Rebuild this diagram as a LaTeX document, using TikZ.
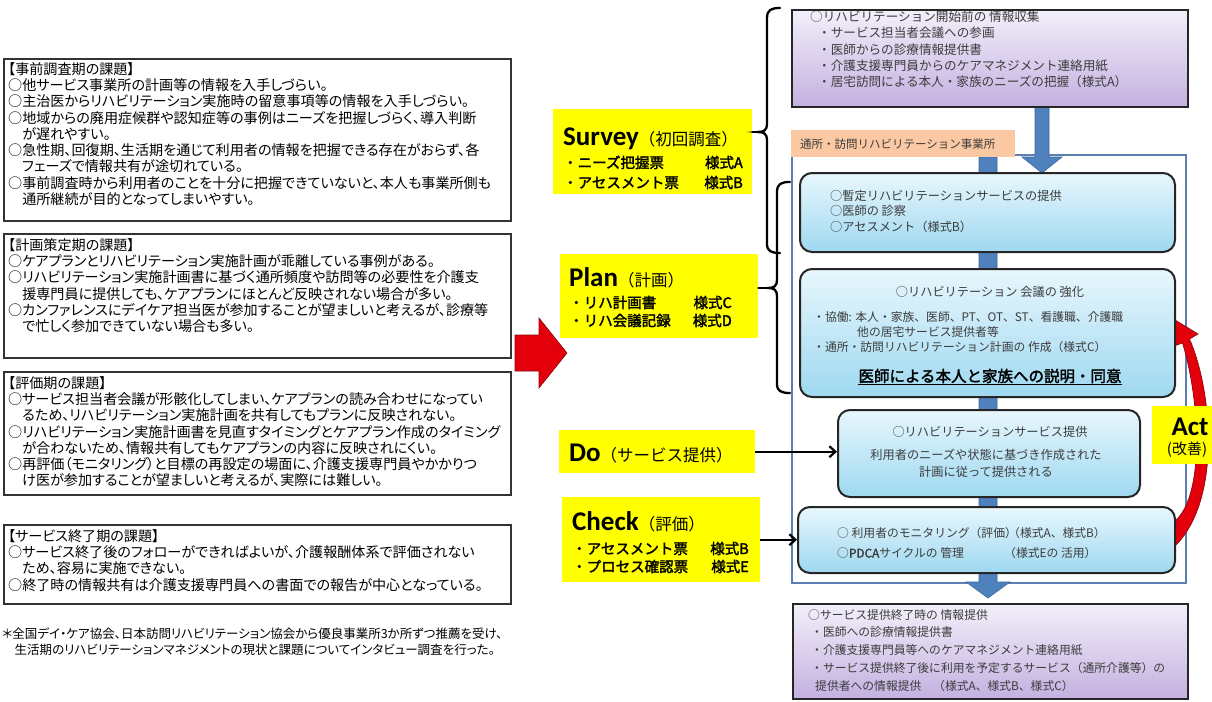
\documentclass[tikz,border=0pt]{standalone}
\usepackage{fontspec}
\setmainfont{Noto Sans CJK JP}[AutoFakeBold=2]
\newfontfamily\jpp{Noto Sans CJK JP}[RawFeature=+palt]
\newfontfamily\calfont{Carlito}
\usetikzlibrary{arrows.meta,calc}
\definecolor{ylw}{HTML}{FFFF00}
\definecolor{barblue}{HTML}{4F81BD}
\definecolor{barblueD}{HTML}{3A679E}
\definecolor{lbTop}{HTML}{E8F7FD}
\definecolor{lbBot}{HTML}{9ED8F0}
\definecolor{pTop}{HTML}{F3EFFA}
\definecolor{pBot}{HTML}{C3B0E0}
\definecolor{peach}{HTML}{FAC8A2}
\definecolor{framec}{HTML}{5B7FAE}
\definecolor{txtg}{HTML}{3C3C3C}
\definecolor{arrRed}{HTML}{E3000B}
\definecolor{arrRedD}{HTML}{8A0A10}
\begin{document}
\begin{tikzpicture}[x=1pt,y=-1pt,
  leftbox/.style={draw=black!80, line width=1.6pt, fill=white, anchor=north west, inner sep=0pt},
  ltext/.style={anchor=north west, align=left, inner sep=0pt, font=\jpp\fontsize{14.1}{16.3}\selectfont},
  ylwbox/.style={fill=ylw, draw=none, anchor=north west, inner sep=0pt},
  ytitle/.style={anchor=base west, inner sep=0pt},
  yline/.style={inner sep=0pt, font=\bfseries\fontsize{14.5}{14.5}\selectfont},
  bluebox/.style={rounded corners=12pt, draw=black!85, line width=2pt, top color=lbTop, bottom color=lbBot, inner sep=0pt},
  purpbox/.style={draw=black!85, line width=2pt, top color=pTop, bottom color=pBot, inner sep=0pt, anchor=north west},
  rtext/.style={anchor=north west, align=left, inner sep=0pt, text=txtg, font=\fontsize{11.8}{15.8}\selectfont},
  ctext/.style={inner sep=0pt, text=txtg, font=\fontsize{11.8}{15.8}\selectfont},
  bracestyle/.style={line width=2.3pt, black, line cap=round},
  conn/.style={line width=2.3pt, black, -{Straight Barb[length=6pt,width=11pt,line width=2.2pt]}},
  blockarrow/.style={fill=barblue, draw=barblueD, line width=0.6pt}
]
\useasboundingbox[fill=white] (0,0) rectangle (1212,701);

% ---------------- left boxes ----------------
\node[leftbox, minimum width=507pt, minimum height=162pt] (k1) at (3,58) {};
\node[ltext] (k1t) at (8,62) {【事前調査期の課題】\\
○他サービス事業所の計画等の情報を入手しづらい。\\
○主治医からリハビリテーション実施時の留意事項等の情報を入手しづらい。\\
○地域からの廃用症候群や認知症等の事例はニーズを把握しづらく、導入判断\\
　が遅れやすい。\\
○急性期、回復期、生活期を通じて利用者の情報を把握できる存在がおらず、各\\
　フェーズで情報共有が途切れている。\\
○事前調査時から利用者のことを十分に把握できていないと、本人も事業所側も\\
　通所継続が目的となってしまいやすい。};

\node[leftbox, minimum width=507pt, minimum height=124pt] (k2) at (3,233) {};
\node[ltext] (k2t) at (8,238) {【計画策定期の課題】\\
○ケアプランとリハビリテーション実施計画が乖離している事例がある。\\
○リハビリテーション実施計画書に基づく通所頻度や訪問等の必要性を介護支\\
　援専門員に提供しても、ケアプランにほとんど反映されない場合が多い。\\
○カンファレンスにデイケア担当医が参加することが望ましいと考えるが、診療等\\
　で忙しく参加できていない場合も多い。};

\node[leftbox, minimum width=507pt, minimum height=123pt] (k3) at (3,371) {};
\node[ltext] (k3t) at (8,376) {【評価期の課題】\\
○サービス担当者会議が形骸化してしまい、ケアプランの読み合わせになってい\\
　るため、リハビリテーション実施計画を共有してもプランに反映されない。\\
○リハビリテーション実施計画書を見直すタイミングとケアプラン作成のタイミング\\
　が合わないため、情報共有してもケアプランの内容に反映されにくい。\\
○再評価（モニタリング）と目標の再設定の場面に、介護支援専門員やかかりつ\\
　け医が参加することが望ましいと考えるが、実際には難しい。};

\node[leftbox, minimum width=507pt, minimum height=79pt] (k4) at (3,524) {};
\node[ltext] (k4t) at (8,529) {【サービス終了期の課題】\\
○サービス終了後のフォローができればよいが、介護報酬体系で評価されない\\
　ため、容易に実施できない。\\
○終了時の情報共有は介護支援専門員への書面での報告が中心となっている。};

\node[anchor=north west, align=left, inner sep=0pt, font=\jpp\fontsize{12.5}{16}\selectfont] (foot) at (2,628) {＊全国デイ・ケア協会、日本訪問リハビリテーション協会から優良事業所3か所ずつ推薦を受け、\\
　生活期のリハビリテーションマネジメントの現状と課題についてインタビュー調査を行った。};

% ---------------- red block arrow ----------------
\fill[arrRed, draw=arrRedD, line width=0.6pt] (515,335) -- (539,335) -- (539,318) -- (567,353) -- (539,388) -- (539,371) -- (515,371) -- cycle;

% ---------------- yellow PDCA boxes ----------------
\node[ylwbox, minimum width=199pt, minimum height=85pt] (sv) at (553,109) {};
\node[ytitle] (svT) at (563,145) {{\calfont\bfseries\fontsize{27}{27}\selectfont Survey}{\fontsize{16.5}{16.5}\selectfont （初回調査）}};
\node[yline, anchor=base west] (sv1) at (563,168) {・ニーズ把握票};
\node[yline, anchor=base east] (sv1b) at (743,168) {様式A};
\node[yline, anchor=base west] (sv2) at (563,188) {・アセスメント票};
\node[yline, anchor=base east] (sv2b) at (743,188) {様式B};

\node[ylwbox, minimum width=198pt, minimum height=84pt] (pl) at (560,254) {};
\node[ytitle] (plT) at (569,286) {{\calfont\bfseries\fontsize{27}{27}\selectfont Plan}{\fontsize{16.5}{16.5}\selectfont （計画）}};
\node[yline, anchor=base west] (pl1) at (569,308) {・リハ計画書};
\node[yline, anchor=base east] (pl1b) at (732,308) {様式C};
\node[yline, anchor=base west] (pl2) at (569,326) {・リハ会議記録};
\node[yline, anchor=base east] (pl2b) at (732,326) {様式D};

\node[ylwbox, minimum width=196pt, minimum height=43pt] (do) at (559,430) {};
\node[ytitle] (doT) at (569,461) {{\calfont\bfseries\fontsize{27}{27}\selectfont Do}{\fontsize{16.5}{16.5}\selectfont （サービス提供）}};

\node[ylwbox, minimum width=198pt, minimum height=85pt] (ck) at (562,497) {};
\node[ytitle] (ckT) at (572,530) {{\calfont\bfseries\fontsize{27}{27}\selectfont Check}{\fontsize{16.5}{16.5}\selectfont （評価）}};
\node[yline, anchor=base west] (ck1) at (572,554) {・アセスメント票};
\node[yline, anchor=base east] (ck1b) at (749,554) {様式B};
\node[yline, anchor=base west] (ck2) at (572,572) {・プロセス確認票};
\node[yline, anchor=base east] (ck2b) at (749,572) {様式E};

% ---------------- right side ----------------
\node[draw=framec, line width=1.5pt, minimum width=394pt, minimum height=428pt, anchor=north west, inner sep=0pt] (office) at (791,154) {};

% central blue bar with bottom arrow
\fill[blockarrow] (979,157) -- (997,157) -- (997,582) -- (1010,582) -- (988,598) -- (966,582) -- (979,582) -- cycle;
% arrow from top purple box
\fill[blockarrow] (1035,106) -- (1049,106) -- (1049,157) -- (1062,157) -- (1042,173) -- (1022,157) -- (1035,157) -- cycle;

\node[fill=peach, minimum width=224pt, minimum height=27pt, anchor=north west, inner sep=0pt] (lab) at (791,130) {};
\node[anchor=west, inner sep=0pt, text=txtg, font=\fontsize{11.5}{11.5}\selectfont] (labt) at (800,144) {通所・訪問リハビリテーション事業所};

\node[purpbox, minimum width=396pt, minimum height=97pt] (pt) at (791,9) {};
\node[rtext, font=\fontsize{12.6}{16.1}\selectfont] (ptt) at (810,11) {○リハビリテーション開始前の 情報収集\\
\hspace{8pt}・サービス担当者会議への参画\\
\hspace{8pt}・医師からの診療情報提供書\\
\hspace{8pt}・介護支援専門員からのケアマネジメント連絡用紙\\
\hspace{8pt}・居宅訪問による本人・家族のニーズの把握（様式A）};

% red curved arrow (behind Act box)
\fill[arrRed, draw=arrRedD, line width=0.7pt]
  (1175,320) -- (1198,334) -- (1189.5,339)
  .. controls (1212,390) and (1222,500) .. (1175,546)
  -- (1175,521)
  .. controls (1205,495) and (1200,400) .. (1182.5,343)
  -- (1174,346) -- cycle;

\node[bluebox, minimum width=375pt, minimum height=79pt] (b1) at (987.5,212.5) {};
\node[rtext, font=\fontsize{12.2}{15.5}\selectfont] (b1t) at (830,190) {○暫定リハビリテーションサービスの提供\\
○医師の 診察\\
○アセスメント（様式B）};

\node[bluebox, minimum width=375pt, minimum height=128pt] (b2) at (987.5,333) {};
\node[ctext, font=\fontsize{12.2}{12.2}\selectfont] (b2a) at (990,292) {○リハビリテーション 会議の 強化};
\node[rtext, font=\fontsize{11.8}{15}\selectfont] (b2b) at (813,311) {・協働: 本人・家族、医師、PT、OT、ST、看護職、介護職\\
\hspace{44pt}他の居宅サービス提供者等\\
・通所・訪問リハビリテーション計画の 作成（様式C）};
\node[inner sep=0pt, font=\bfseries\fontsize{15.5}{15.5}\selectfont] (b2c) at (990,377) {\underline{医師による本人と家族への説明・同意}};

\node[bluebox, minimum width=302pt, minimum height=87pt] (b3) at (989,453.5) {};
\node[ctext, font=\fontsize{12.2}{12.2}\selectfont] (b3a) at (990,432) {○リハビリテーションサービス提供};
\node[ctext, font=\fontsize{12.2}{12.2}\selectfont] (b3b) at (986,455) {利用者のニーズや状態に基づき作成された};
\node[ctext, font=\fontsize{12.2}{12.2}\selectfont] (b3c) at (986,472) {計画に従って提供される};

\node[bluebox, minimum width=377pt, minimum height=66pt] (b4) at (986.5,540) {};
\node[ctext, anchor=west] (b4a) at (837,533) {○ 利用者のモニタリング（評価）};
\node[ctext, anchor=west] (b4b) at (1008,533) {（様式A、様式B）};
\node[ctext, anchor=west] (b4c) at (837,553) {○\textbf{PDCA}サイクルの 管理};
\node[ctext, anchor=west] (b4d) at (1004,553) {（様式Eの 活用）};

\node[purpbox, minimum width=395pt, minimum height=95pt] (pb) at (792,603) {};
\node[rtext, font=\fontsize{11.8}{17.8}\selectfont] (pbt) at (808,609) {○サービス提供終了時の 情報提供\\
\hspace{3pt}・医師への診療情報提供書\\
\hspace{3pt}・介護支援専門員等へのケアマネジメント連絡用紙\\
\hspace{3pt}・サービス提供終了後に利用を予定するサービス（通所介護等）の\\
\hspace{7pt}提供者への情報提供　（様式A、様式B、様式C）};

% Act box
\node[ylwbox, minimum width=60pt, minimum height=58pt] (act) at (1152,406) {};
\node[inner sep=0pt, font=\calfont\bfseries\fontsize{27}{27}\selectfont] (actT) at (1190,427) {Act};
\node[inner sep=0pt, font=\fontsize{15}{15}\selectfont] (actS) at (1187,450) {(改善)};

% ---------------- braces and connectors ----------------
\coordinate (svtip) at (758,132);
\draw[bracestyle] (780,8) .. controls (771,8) and (767,10) .. (767,18) -- (767,124)
  .. controls (767,130) and (764,132) .. (svtip)
  .. controls (764,132) and (767,134) .. (767,140) -- (767,244)
  .. controls (767,251) and (771,253) .. (780,253);
\draw[bracestyle] (svtip -| sv.east) -- (svtip);

\coordinate (pltip) at (768,288);
\draw[bracestyle] (790,182) .. controls (781,182) and (777,184) .. (777,192) -- (777,280)
  .. controls (777,286) and (774,288) .. (pltip)
  .. controls (774,288) and (777,290) .. (777,296) -- (777,384)
  .. controls (777,391) and (781,393) .. (790,393);
\draw[bracestyle] (pltip -| pl.east) -- (pltip);

\draw[conn] (do.east) -- (do.east -| b3.west);
\draw[conn] (ck.east) -- (ck.east -| b4.west);
\end{tikzpicture}
\end{document}
